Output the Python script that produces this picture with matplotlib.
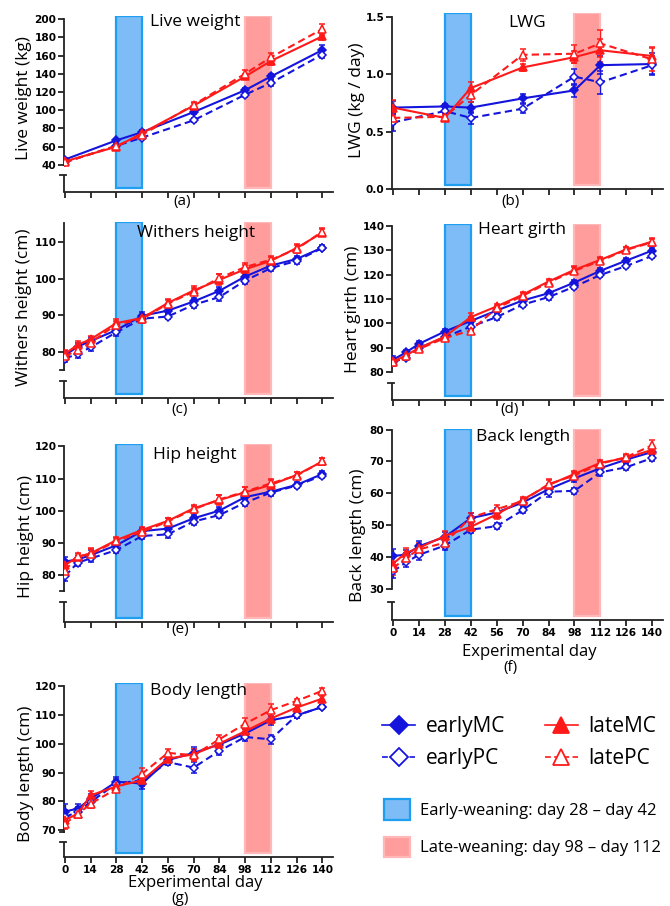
import matplotlib
matplotlib.use("Agg")
import matplotlib.pyplot as plt
from matplotlib.lines import Line2D
from matplotlib.patches import Patch
import matplotlib.transforms as mtransforms

# ---- data ----
days_short = [0, 28, 42, 70, 98, 112, 140]
days_full = [0, 7, 14, 28, 42, 56, 70, 84, 98, 112, 126, 140]
day_ticks = [0, 14, 28, 42, 56, 70, 84, 98, 112, 126, 140]

# live weight (kg)
lw_earlyMC = [46, 67, 76, 98, 122, 137, 166]
lw_earlyPC = [43, 61, 70, 89, 117, 130, 161]
lw_lateMC = [44, 60, 75, 105, 137, 154, 181]
lw_latePC = [43, 61, 73, 106, 140, 158, 189]
lw_err = [[2, 2, 2, 2, 2, 3, 5], [2, 2, 2, 2, 2, 3, 4],
          [2, 2, 2, 3, 3, 4, 4], [2, 2, 2, 3, 4, 5, 6]]

# live weight gain (kg / day)
lwg_earlyMC = [0.71, 0.72, 0.71, 0.79, 0.86, 1.08, 1.09]
lwg_earlyPC = [0.58, 0.68, 0.62, 0.70, 0.98, 0.93, 1.08]
lwg_lateMC = [0.71, 0.62, 0.88, 1.06, 1.15, 1.21, 1.16]
lwg_latePC = [0.62, 0.63, 0.82, 1.17, 1.18, 1.27, 1.13]
lwg_err = [[0.06, 0.02, 0.05, 0.04, 0.06, 0.08, 0.10], [0.07, 0.03, 0.05, 0.04, 0.07, 0.10, 0.08],
           [0.07, 0.02, 0.05, 0.03, 0.05, 0.10, 0.08], [0.05, 0.02, 0.06, 0.05, 0.08, 0.12, 0.10]]

# withers height (cm)
wh_earlyMC = [79.1, 81.5, 83.0, 86.0, 89.9, 91.3, 93.8, 96.7, 100.6, 103.6, 105.4, 108.5]
wh_earlyPC = [78.2, 79.5, 81.3, 85.4, 89.1, 89.7, 92.9, 95.0, 99.5, 102.9, 104.9, 108.4]
wh_lateMC = [79.5, 82.0, 83.5, 87.9, 89.3, 93.4, 96.8, 99.7, 102.6, 104.9, 108.4, 112.6]
wh_latePC = [78.8, 80.6, 82.6, 87.5, 89.0, 93.2, 96.5, 100.2, 103.2, 105.2, 108.1, 112.9]
wh_err = [[1.2, 1.0, 1.0, 1.0, 1.0, 1.0, 1.0, 1.0, 1.0, 0.8, 0.8, 0.6],
          [1.0, 1.0, 1.0, 1.0, 1.0, 0.8, 1.0, 1.0, 1.0, 0.8, 0.8, 0.6],
          [1.0, 1.0, 1.0, 1.0, 1.0, 1.0, 1.2, 1.5, 1.2, 1.0, 1.0, 1.0],
          [1.0, 1.0, 1.0, 1.0, 1.0, 1.0, 1.0, 1.2, 1.0, 1.0, 1.0, 1.0]]

# heart girth (cm)
hg_earlyMC = [85.1, 88.1, 91.6, 96.7, 101.0, 105.3, 109.4, 112.4, 116.8, 121.6, 125.8, 129.9]
hg_earlyPC = [84.0, 86.0, 89.9, 94.4, 98.7, 102.6, 107.7, 110.8, 115.1, 119.9, 123.6, 127.7]
hg_lateMC = [84.4, 86.9, 89.9, 94.6, 102.6, 107.0, 111.8, 117.2, 122.0, 126.1, 130.4, 133.6]
hg_latePC = [84.0, 86.5, 89.5, 94.0, 97.1, 106.3, 111.3, 116.8, 121.6, 125.7, 130.2, 133.3]
hg_err = [[1.5, 1.0, 1.0, 1.0, 1.5, 1.0, 1.0, 1.0, 1.0, 1.0, 1.0, 1.0],
          [1.5, 1.0, 1.0, 1.0, 1.5, 1.0, 1.0, 1.0, 1.0, 1.0, 1.0, 1.0],
          [1.5, 1.0, 1.0, 1.0, 1.5, 1.0, 1.0, 1.0, 1.5, 1.0, 1.0, 1.5],
          [1.5, 1.0, 1.0, 1.0, 1.5, 1.0, 1.0, 1.0, 1.5, 1.0, 1.0, 1.5]]

# hip height (cm)
hh_earlyMC = [84.1, 84.8, 86.1, 89.2, 93.6, 94.4, 97.6, 100.0, 104.2, 105.9, 108.0, 111.4]
hh_earlyPC = [79.6, 83.8, 85.1, 87.7, 92.1, 92.6, 96.6, 98.6, 102.5, 105.6, 107.8, 110.9]
hh_lateMC = [83.0, 85.6, 86.7, 90.8, 94.0, 96.8, 100.7, 103.3, 105.7, 108.0, 111.1, 115.3]
hh_latePC = [81.3, 85.8, 86.4, 90.5, 93.4, 96.6, 100.4, 103.5, 105.9, 108.5, 110.9, 115.3]
hh_err = [[1.5, 1.0, 1.5, 1.0, 1.0, 1.0, 1.0, 1.0, 1.0, 1.0, 0.8, 0.8],
          [1.5, 1.0, 1.0, 1.0, 1.0, 1.0, 1.0, 1.0, 1.0, 1.0, 0.8, 0.8],
          [1.5, 1.0, 1.5, 1.0, 1.0, 1.0, 1.0, 1.5, 1.5, 1.5, 1.0, 1.0],
          [1.5, 1.0, 1.5, 1.0, 1.0, 1.0, 1.0, 1.5, 1.5, 1.5, 1.0, 1.0]]

# back length (cm)
bk_earlyMC = [40.4, 40.7, 43.4, 46.3, 52.2, 54.0, 57.1, 61.3, 64.7, 67.9, 70.6, 73.0]
bk_earlyPC = [35.5, 38.3, 40.7, 43.6, 48.6, 49.7, 54.7, 60.5, 60.8, 66.6, 68.2, 71.1]
bk_lateMC = [37.9, 41.3, 42.9, 46.6, 49.5, 53.4, 58.0, 62.6, 66.1, 69.6, 71.1, 73.7]
bk_latePC = [36.5, 39.7, 42.4, 44.5, 52.4, 55.0, 57.6, 62.9, 65.6, 69.3, 71.4, 75.1]
bk_err = [[2.0, 1.5, 1.5, 1.5, 1.5, 1.5, 1.0, 1.5, 1.0, 1.0, 1.0, 1.0],
          [2.0, 1.5, 1.5, 1.5, 1.0, 1.0, 1.0, 1.5, 1.0, 1.0, 1.0, 1.0],
          [2.0, 1.5, 1.5, 1.5, 1.0, 1.5, 1.0, 1.5, 1.0, 1.0, 1.0, 1.0],
          [2.0, 1.5, 1.5, 1.5, 1.5, 1.5, 1.0, 1.5, 1.0, 1.0, 1.0, 1.5]]

# body length (cm)
bl_earlyMC = [76.5, 77.5, 80.9, 86.8, 86.2, 94.3, 96.8, 99.7, 103.5, 108.1, 109.8, 112.7]
bl_earlyPC = [74.6, 76.4, 79.8, 86.2, 87.3, 93.6, 91.7, 97.5, 102.3, 101.5, 109.8, 112.7]
bl_lateMC = [73.5, 75.8, 82.1, 85.2, 87.3, 94.8, 96.3, 100.0, 104.3, 108.7, 112.5, 115.6]
bl_latePC = [72.3, 75.6, 79.2, 84.4, 89.6, 96.8, 96.0, 101.5, 106.9, 111.6, 114.8, 118.3]
bl_err = [[2.5, 1.5, 1.5, 1.5, 2.0, 1.0, 2.0, 1.5, 1.5, 1.5, 0.8, 0.8],
          [2.5, 1.5, 1.5, 1.5, 2.0, 1.0, 2.0, 1.5, 1.5, 1.5, 0.8, 0.8],
          [2.0, 1.0, 1.5, 1.0, 2.0, 1.5, 2.0, 1.5, 2.0, 2.0, 0.8, 0.8],
          [2.0, 1.0, 1.5, 1.0, 2.0, 1.5, 2.0, 1.5, 2.0, 2.0, 0.8, 0.8]]

series_names = ["earlyMC", "earlyPC", "lateMC", "latePC"]

# ---- styling ----
W, H = 670, 906
BLUE = "#1414dc"
RED = "#ff1a1a"
LABEL_FONT = "Open Sans"
TICK_FONT = "DejaVu Sans"
styles = {
    "earlyMC": dict(color=BLUE, ls="-", marker="D", mfc=BLUE, ms=4.5),
    "earlyPC": dict(color=BLUE, ls=(0, (3.5, 2)), marker="D", mfc="white", ms=4.5),
    "lateMC": dict(color=RED, ls="-", marker="^", mfc=RED, ms=5.5),
    "latePC": dict(color=RED, ls=(0, (3.5, 2)), marker="^", mfc="white", ms=5.5),
}

fig = plt.figure(figsize=(W / 100, H / 100), dpi=100)


def px_axes(l, t, r, b):
    return fig.add_axes([l / W, 1 - b / H, (r - l) / W, (b - t) / H])


def draw_panel(box, days, series, errs, ylim, spine_rng, stub_hi, yticks,
               title, title_xy, ylabel, ylab_xy, letter, letter_xy,
               ytick_fmt=None, xlabels=False):
    l, t, r, b = box
    ax = px_axes(l, t, r, b)
    ax.set_xlim(-0.5, 145.8)
    ax.set_ylim(*ylim)
    hpx = b - t
    wpx = r - l

    # weaning windows
    ax.axvspan(28, 42, ymin=4 / hpx, ymax=1, facecolor="#7dbcf7",
               edgecolor="#1e9ff0", lw=1.6, zorder=1)
    ax.axvspan(98, 112, ymin=4 / hpx, ymax=1, facecolor="#ff9c9c",
               edgecolor="#ffb8b8", lw=1.6, zorder=1)

    for name, vals, err in zip(series_names, series, errs):
        st = styles[name]
        ax.errorbar(days, vals, yerr=err, color=st["color"], ls=st["ls"],
                    lw=1.5, marker=st["marker"], ms=st["ms"], mfc=st["mfc"],
                    mec=st["color"], mew=1.1, capsize=2.2, elinewidth=1,
                    capthick=1, zorder=3)

    for s in ("top", "right"):
        ax.spines[s].set_visible(False)
    for s in ("left", "bottom"):
        ax.spines[s].set_linewidth(1.3)
        ax.spines[s].set_color("#222222")
    ax.spines["left"].set_bounds(*spine_rng)

    # broken y axis: short stub down to the x axis
    if stub_hi is not None:
        tr = mtransforms.blended_transform_factory(ax.transAxes, ax.transData)
        ax.plot([0, 0], [ylim[0], stub_hi], color="#222222", lw=1.3,
                transform=tr, clip_on=False, solid_capstyle="butt")
        ax.plot([-4 / wpx, 2 / wpx], [stub_hi, stub_hi], color="#222222",
                lw=1.3, transform=tr, clip_on=False)
        if spine_rng[0] not in yticks:
            ax.plot([-4 / wpx, 0], [spine_rng[0], spine_rng[0]], color="#222222",
                    lw=1.3, transform=tr, clip_on=False)

    ax.set_xticks(day_ticks)
    ax.set_yticks(yticks)
    if ytick_fmt:
        ax.set_yticklabels([ytick_fmt.format(v) for v in yticks])
    if not xlabels:
        ax.set_xticklabels([])
    ax.tick_params(direction="out", length=4, width=1.3, color="#222222",
                   pad=1.5)
    for lab in ax.get_xticklabels() + ax.get_yticklabels():
        lab.set_fontfamily(TICK_FONT)
        lab.set_fontweight("bold")
        lab.set_fontsize(7.6)

    fig.text(title_xy[0] / W, 1 - title_xy[1] / H, title, family=LABEL_FONT,
             fontsize=12.5, ha="center", va="center")
    fig.text(ylab_xy[0] / W, 1 - ylab_xy[1] / H, ylabel, family=LABEL_FONT,
             fontsize=12.5, rotation=90, ha="center", va="center")
    fig.text(letter_xy[0] / W, 1 - letter_xy[1] / H, letter, family=LABEL_FONT,
             fontsize=11, ha="center", va="center")
    return ax


draw_panel((64, 16, 333, 192), days_short,
           [lw_earlyMC, lw_earlyPC, lw_lateMC, lw_latePC], lw_err,
           (10.4, 203.3), (40, 200), 29, list(range(40, 201, 20)),
           "Live weight", (195, 22), "Live weight (kg)", (24, 98), "(a)", (182, 202))

draw_panel((392, 13, 663, 189), days_short,
           [lwg_earlyMC, lwg_earlyPC, lwg_lateMC, lwg_latePC], lwg_err,
           (0, 1.535), (0, 1.5), None, [0, 0.5, 1.0, 1.5],
           "LWG", (527, 23), "LWG (kg / day)", (357, 100), "(b)", (510, 202),
           ytick_fmt="{:.1f}")

draw_panel((64, 222, 333, 398), days_full,
           [wh_earlyMC, wh_earlyPC, wh_lateMC, wh_latePC], wh_err,
           (67.45, 115.5), (75.2, 115.3), 72.1, [80, 90, 100, 110],
           "Withers height", (196, 233), "Withers height (cm)", (24, 307), "(c)", (180, 410))

draw_panel((392, 224, 663, 400), days_full,
           [hg_earlyMC, hg_earlyPC, hg_lateMC, hg_latePC], hg_err,
           (68.6, 140.8), (80, 140), 75.5, list(range(80, 141, 10)),
           "Heart girth", (522, 230), "Heart girth (cm)", (353, 309), "(d)", (510, 410))

draw_panel((64, 444, 333, 622), days_full,
           [hh_earlyMC, hh_earlyPC, hh_lateMC, hh_latePC], hh_err,
           (65.3, 120.75), (75, 120), 71.4, list(range(80, 121, 10)),
           "Hip height", (195, 455), "Hip height (cm)", (26, 537), "(e)", (180, 630))

draw_panel((392, 429, 663, 620), days_full,
           [bk_earlyMC, bk_earlyPC, bk_lateMC, bk_latePC], bk_err,
           (20.25, 80.2), (30, 80), 25.8, list(range(30, 81, 10)),
           "Back length", (523, 437), "Back length (cm)", (358, 535), "(f)", (510, 668),
           xlabels=True)
fig.text(529 / W, 1 - 652 / H, "Experimental day", family=LABEL_FONT,
         fontsize=12, ha="center", va="center")

draw_panel((64, 683, 333, 857), days_full,
           [bl_earlyMC, bl_earlyPC, bl_lateMC, bl_latePC], bl_err,
           (60.75, 121), (69.5, 120), 66, list(range(70, 121, 10)),
           "Body length", (198, 691), "Body length (cm)", (26, 774), "(g)", (180, 899),
           xlabels=True)
fig.text(195 / W, 1 - 883 / H, "Experimental day", family=LABEL_FONT,
         fontsize=12, ha="center", va="center")

# ---- legends ----
handles = []
for name in series_names:
    st = styles[name]
    handles.append(Line2D([], [], color=st["color"], ls=st["ls"], lw=1.2,
                          marker=st["marker"], mfc=st["mfc"], mec=st["color"],
                          mew=1.3, ms=9 if st["marker"] == "D" else 11))
leg1 = fig.legend(handles, series_names,
                  ncol=2, loc="upper left", bbox_to_anchor=(382 / W, 1 - 716 / H),
                  frameon=False, prop={"family": LABEL_FONT, "size": 15},
                  handlelength=1.6, handletextpad=0.5, columnspacing=1.9,
                  labelspacing=0.55, borderpad=0, borderaxespad=0)

patches = [Patch(facecolor="#7dbcf7", edgecolor="#1e9ff0", lw=1.6),
           Patch(facecolor="#ff9c9c", edgecolor="#ffb8b8", lw=1.6)]
leg2 = fig.legend(patches, ["Early-weaning: day 28 \u2013 day 42",
                            "Late-weaning: day 98 \u2013 day 112"],
                  loc="upper left", bbox_to_anchor=(384 / W, 1 - 799 / H),
                  frameon=False, prop={"family": LABEL_FONT, "size": 12},
                  handlelength=1.55, handleheight=1.55, handletextpad=0.6,
                  labelspacing=1.0, borderpad=0, borderaxespad=0)

fig.savefig("out.png", dpi=100)
